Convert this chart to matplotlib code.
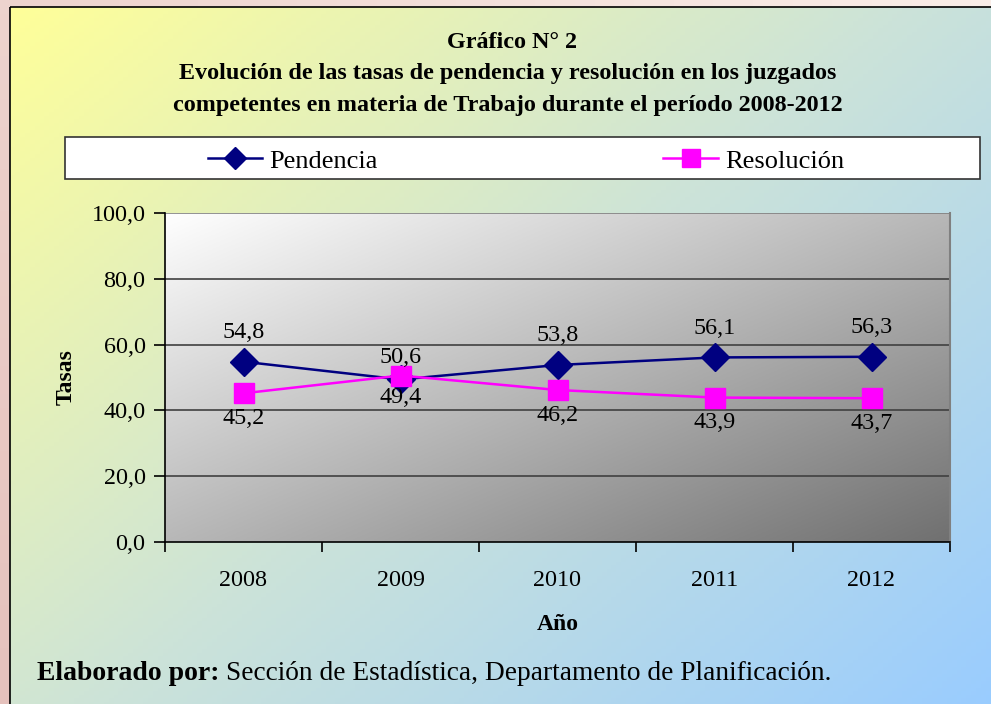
import numpy as np
import matplotlib
matplotlib.use("Agg")
import matplotlib.pyplot as plt
from matplotlib.patches import Rectangle
from matplotlib.lines import Line2D

years = ["2008", "2009", "2010", "2011", "2012"]
pendencia = [54.8, 49.4, 53.8, 56.1, 56.3]
resolucion = [45.2, 50.6, 46.2, 43.9, 43.7]
yticks = [0, 20, 40, 60, 80, 100]

plt.rcParams['font.family'] = ['Liberation Serif', 'DejaVu Serif']

W, H = 991, 704
fig = plt.figure(figsize=(W / 100, H / 100), dpi=100)

# background axes in pixel coords
bg = fig.add_axes([0, 0, 1, 1])
bg.set_xlim(0, W)
bg.set_ylim(H, 0)
bg.axis('off')

# outer decorative background (soft pink)
yy, xx = np.mgrid[0:1:50j, 0:1:50j]
c1 = np.array([0.90, 0.76, 0.74])
c2 = np.array([0.98, 0.93, 0.91])
t = (0.6 * xx + 0.4 * (1 - yy))[..., None]
outer = c1 * (1 - t) + c2 * t
bg.imshow(outer, extent=[0, W, H, 0], aspect='auto', zorder=0)

# inner gradient: yellow top-left -> light blue bottom-right
yy, xx = np.mgrid[0:1:200j, 0:1:200j]
t = np.clip((xx * 0.55 + yy * 0.45), 0, 1)[..., None]
ca = np.array([1.0, 1.0, 0.60])
cm = np.array([0.80, 0.89, 0.85])
cb = np.array([0.60, 0.80, 1.0])
grad = np.where(t < 0.5, ca * (1 - 2 * t) + cm * (2 * t), cm * (2 - 2 * t) + cb * (2 * t - 1))
bg.imshow(grad, extent=[10, W + 5, H + 5, 7], aspect='auto', zorder=1)
bg.add_patch(Rectangle((10, 7), W, H, fill=False, edgecolor='black', lw=1.2, zorder=2))

# titles
tfs = 17.4
bg.text(512, 42, "Gráfico N° 2", ha='center', va='center', fontsize=tfs, fontweight='bold', zorder=3)
bg.text(508, 74, "Evolución de las tasas de pendencia y resolución en los juzgados",
        ha='center', va='center', fontsize=tfs, fontweight='bold', zorder=3)
bg.text(508, 105, "competentes en materia de Trabajo durante el período 2008-2012",
        ha='center', va='center', fontsize=tfs, fontweight='bold', zorder=3)

# legend box
bg.add_patch(Rectangle((65, 137), 915, 42, facecolor='white', edgecolor='#333333', lw=1.2, zorder=3))
bg.add_line(Line2D([208, 262], [158, 158], color='#000080', lw=1.8, zorder=4))
bg.plot([235], [158], marker='D', color='#000080', markersize=11, zorder=5)
bg.text(269, 159, "Pendencia", ha='left', va='center_baseline', fontsize=19, zorder=5)
bg.add_line(Line2D([663, 718], [158, 158], color='#ff00ff', lw=1.8, zorder=4))
bg.plot([690.5], [158], marker='s', color='#ff00ff', markersize=13, zorder=5)
bg.text(725, 159, "Resolución", ha='left', va='center_baseline', fontsize=19, zorder=5)

# footer
bg.text(37, 671, "Elaborado por:", ha='left', va='center_baseline', fontsize=20, fontweight='bold', zorder=3)
bg.text(226, 671, "Sección de Estadística, Departamento de Planificación.", ha='left', va='center_baseline',
        fontsize=19.7, zorder=3)

# main axes
left, right, top, bottom = 165, 950, 213, 542
ax = fig.add_axes([left / W, 1 - bottom / H, (right - left) / W, (bottom - top) / H])
ax.set_facecolor('none')
ax.patch.set_alpha(0)
yy, xx = np.mgrid[0:1:200j, 0:1:200j]
t = np.clip(xx * 0.5 + yy * 0.5, 0, 1)
g = 1.0 - 0.56 * t
pa = np.dstack([g, g, g])
ax.imshow(pa, extent=[0, 1, 0, 1], transform=ax.transAxes, aspect='auto', zorder=0)

x = np.arange(len(years))
ax.set_xlim(-0.5, len(years) - 0.5)
ax.set_ylim(0, 100)
for v in yticks[1:-1]:
    ax.axhline(v, color='#404040', lw=1.2, zorder=1)
ax.axhline(100, color='#808080', lw=1.2, zorder=1)

ax.plot(x, pendencia, color='#000080', lw=1.8, marker='D', markersize=14, zorder=4)
ax.plot(x, resolucion, color='#ff00ff', lw=1.8, marker='s', markersize=14, zorder=5)

fs = 17.4
def lab(v):
    return f"{v:.1f}".replace('.', ',')

for i in range(len(years)):
    p, r = pendencia[i], resolucion[i]
    if p >= r:
        ax.annotate(lab(p), (x[i], p), xytext=(0, 21), textcoords='offset points',
                    ha='center', va='center', fontsize=fs, zorder=6)
        ax.annotate(lab(r), (x[i], r), xytext=(0, -18), textcoords='offset points',
                    ha='center', va='center', fontsize=fs, zorder=6)
    else:
        ax.annotate(lab(r), (x[i], r), xytext=(0, 13), textcoords='offset points',
                    ha='center', va='center', fontsize=fs, zorder=6)
        ax.annotate(lab(p), (x[i], p), xytext=(0, -13), textcoords='offset points',
                    ha='center', va='center', fontsize=fs, zorder=6)

ax.set_yticks(yticks)
ax.set_yticklabels([lab(v) for v in yticks], fontsize=fs)
ax.set_xticks(x)
ax.set_xticklabels(years, fontsize=fs)
ax.set_xticks(np.arange(-0.5, len(years)), minor=True)
ax.tick_params(axis='x', which='major', length=0, pad=20)
ax.tick_params(axis='x', which='minor', length=7, width=1.2, direction='out', color='black')
ax.tick_params(axis='y', length=8, width=1.2, direction='out', pad=6)

for s in ['left', 'bottom']:
    ax.spines[s].set_color('black')
    ax.spines[s].set_linewidth(1.2)
ax.spines['top'].set_visible(False)
ax.spines['right'].set_color('#808080')
ax.spines['right'].set_linewidth(1.5)

ax.set_ylabel("Tasas", fontsize=17, fontweight='bold', labelpad=11)
ax.set_xlabel("Año", fontsize=17, fontweight='bold', labelpad=17)

fig.savefig("out.png", dpi=100)
